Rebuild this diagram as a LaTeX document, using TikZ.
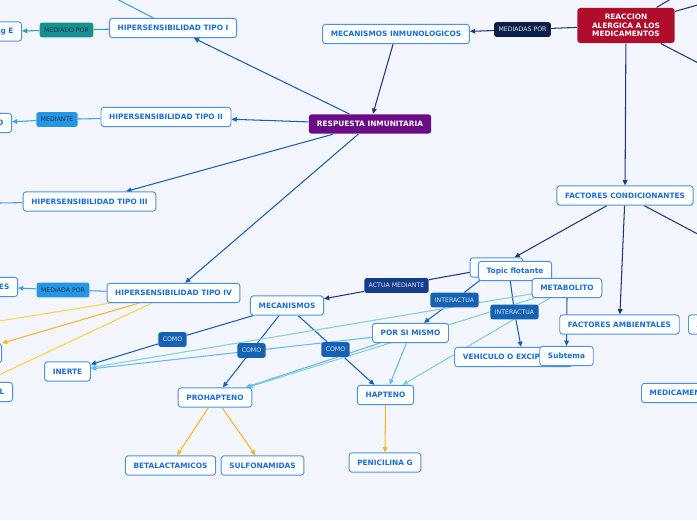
\documentclass[tikz,border=0pt]{standalone}
\usepackage{fontspec}
\setmainfont{DejaVu Sans}
\usetikzlibrary{arrows.meta,backgrounds}
\definecolor{pageBg}{HTML}{F3F6FE}
\definecolor{topicLine}{HTML}{4A92E4}
\definecolor{topicText}{HTML}{1A6ED6}
\definecolor{reacRed}{HTML}{B00C2C}
\definecolor{respPurple}{HTML}{6B0B87}
\definecolor{navyFill}{HTML}{0D1E48}
\definecolor{navyLine}{HTML}{1B3A7E}
\definecolor{actuaFill}{HTML}{153C8C}
\definecolor{midBlue}{HTML}{1562B2}
\definecolor{skyFill}{HTML}{2596E6}
\definecolor{skyLine}{HTML}{3CA2EA}
\definecolor{paleBlue}{HTML}{5CBEF2}
\definecolor{tealFill}{HTML}{17918F}
\definecolor{tealLine}{HTML}{2AA6A4}
\definecolor{mintLine}{HTML}{84D2CA}
\definecolor{yellowLine}{HTML}{FFD43A}
\definecolor{orangeLine}{HTML}{FFB422}
\definecolor{lblLight}{HTML}{DCE4F2}
\definecolor{lblDark}{HTML}{1A3550}
\begin{document}
\begin{tikzpicture}[x=0.03cm,y=-0.03cm,
  topic/.style={draw=topicLine, fill=white, rounded corners=2.5pt, line width=0.8pt, text=topicText,
    font=\bfseries\fontsize{6.3}{7.5}\selectfont, inner xsep=7pt, inner ysep=2pt, minimum height=16.5pt},
  lbl/.style={rounded corners=2pt, font=\fontsize{5.3}{6.3}\selectfont, inner xsep=3.8pt, inner ysep=1pt, minimum height=12.5pt},
  dark/.style={lbl, fill=#1, text=lblLight},
  pale/.style={lbl, fill=#1, text=lblDark},
  link/.style={line width=0.9pt, draw=#1},
  arr/.style={-{Triangle[length=4.5pt,width=4pt]}}]
\useasboundingbox (0,0) rectangle (697,520);
% main topics
\node[topic, draw=none, fill=reacRed, text=white, align=center, minimum width=83pt, minimum height=30pt,
  font=\bfseries\fontsize{6.3}{7.3}\selectfont] (reaccion) at (626,25.5) {REACCION\\ALERGICA A LOS\\MEDICAMENTOS};
\node[dark=navyFill] (medpor) at (522.5,29.5) {MEDIADAS POR};
\node[topic] (mecinm) at (396,34) {MECANISMOS INMUNOLOGICOS};
\node[topic, draw=none, fill=respPurple, text=white] (resp) at (370,124) {RESPUESTA INMUNITARIA};
% hypersensitivity types
\node[topic] (tipoI) at (173,28) {HIPERSENSIBILIDAD TIPO I};
\node[pale=tealFill] (mediado) at (66.5,30) {MEDIADO POR};
\node[topic, anchor=east, text width=1cm, align=right] (igE) at (22,31.5) {Ig E};
\node[topic] (tipoII) at (166,117) {HIPERSENSIBILIDAD TIPO II};
\node[pale=skyFill] (mediante) at (57,119.5) {MEDIANTE};
\node[topic, anchor=east, text width=1cm, align=right] (nodeO) at (12,123) {O};
\node[topic] (tipoIII) at (89.5,201.5) {HIPERSENSIBILIDAD TIPO III};
\node[topic] (tipoIV) at (173.5,293) {HIPERSENSIBILIDAD TIPO IV};
\node[pale=skyFill] (mediada) at (63,290) {MEDIADA POR};
\node[topic, anchor=east, text width=1cm, align=right] (nodeES) at (18,287) {ES};
\node[topic, anchor=east, text width=1.5cm] (nodeX) at (2,353) {};
\node[topic, anchor=east, text width=2.5cm, align=right] (nodeL) at (13,392) {L};
% mechanisms
\node[topic] (mecan) at (287,305.5) {MECANISMOS};
\node[dark=actuaFill] (actua) at (396.5,285.5) {ACTUA MEDIANTE};
\node[topic, minimum width=45pt] (hidden) at (496.5,267.5) {};
\node[topic] (topic) at (515,271) {Topic flotante};
\node[topic] (metab) at (567,288) {METABOLITO};
\node[dark=midBlue] (inter1) at (454.5,300) {INTERACTUA};
\node[dark=midBlue] (inter2) at (514.5,312) {INTERACTUA};
\node[topic] (porsi) at (410.5,333) {POR SI MISMO};
\node[topic] (vehic) at (513.5,357) {VEHICULO O EXCIPIENTE};
\node[topic] (subtema) at (566.5,356) {Subtema};
% conditioning factors
\node[topic] (factcond) at (625,195.5) {FACTORES CONDICIONANTES};
\node[topic] (factamb) at (619.5,324.5) {FACTORES AMBIENTALES};
\node[topic, anchor=west, text width=2cm] (nodeA) at (688,324.5) {A};
\node[topic, anchor=west, text width=3cm] (medicam) at (641,393) {MEDICAMEN};
% inert, prohapten, hapten
\node[topic] (inerte) at (67.5,371.5) {INERTE};
\node[topic] (prohap) at (215,397.5) {PROHAPTENO};
\node[topic] (hapteno) at (385.5,395) {HAPTENO};
\node[dark=midBlue] (como1) at (172.5,339.5) {COMO};
\node[dark=midBlue] (como2) at (251.5,350.5) {COMO};
\node[dark=midBlue] (como3) at (335.5,349.5) {COMO};
\node[topic] (betal) at (170.5,465.5) {BETALACTAMICOS};
\node[topic] (sulfo) at (262.5,465.5) {SULFONAMIDAS};
\node[topic] (penic) at (385,462.5) {PENICILINA G};
% off-page ends
\coordinate (offTop) at (60,-30);
\coordinate (offIII) at (-60,204);
\coordinate (offIV) at (-100,337);
\coordinate (offR1) at (720,-30);
\coordinate (offR2) at (760,-13);
\coordinate (offR3) at (760,95);
\coordinate (offFC) at (760,267);
\begin{scope}[on background layer]
\fill[pageBg] (0,0) rectangle (697,520);
% navy links
\draw[link=navyLine] (reaccion) -- (medpor);
\draw[link=navyLine, arr] (medpor) -- (mecinm);
\draw[link=navyLine, arr] (mecinm) -- (resp);
\draw[link=navyLine, arr] (reaccion) -- (factcond);
\draw[link=navyLine] (reaccion) -- (offR1);
\draw[link=navyLine] (reaccion) -- (offR2);
\draw[link=navyLine] (reaccion) -- (offR3);
\draw[link=navyLine, arr] (factcond) -- (hidden);
\draw[link=navyLine, arr] (factcond) -- (factamb);
\draw[link=navyLine] (factcond) -- (offFC);
\draw[link=navyLine] (hidden) -- (actua);
\draw[link=navyLine, arr] (actua) -- (mecan);
% response types
\draw[link=midBlue, arr] (resp) -- (tipoI);
\draw[link=midBlue, arr] (resp) -- (tipoII);
\draw[link=midBlue, arr] (resp) -- (tipoIII);
\draw[link=midBlue, arr] (resp) -- (tipoIV);
\draw[link=skyLine] (offTop) -- (tipoI);
\draw[link=skyLine] (tipoIII) -- (offIII);
\draw[link=tealLine] (tipoI) -- (mediado);
\draw[link=tealLine, arr] (mediado) -- (igE);
\draw[link=skyLine] (tipoII) -- (mediante);
\draw[link=skyLine, arr] (mediante) -- (nodeO);
\draw[link=skyLine] (tipoIV) -- (mediada);
\draw[link=skyLine, arr] (mediada) -- (nodeES);
\draw[link=yellowLine] (tipoIV) -- (offIV);
\draw[link=orangeLine, arr] (tipoIV) -- (nodeX);
\draw[link=yellowLine, arr] (tipoIV) -- (nodeL);
% mechanisms
\draw[link=midBlue] (mecan) -- (como1);
\draw[link=midBlue, arr] (como1) -- (inerte);
\draw[link=midBlue] (mecan) -- (como2);
\draw[link=midBlue, arr] (como2) -- (prohap);
\draw[link=midBlue] (mecan) -- (como3);
\draw[link=midBlue, arr] (como3) -- (hapteno);
\draw[link=midBlue] (hidden) -- (inter1);
\draw[link=midBlue, arr] (inter1) -- (porsi);
\draw[link=midBlue] ([xshift=-4pt]topic.south) -- (inter2);
\draw[link=midBlue, arr] (inter2) -- ([xshift=6.4pt]vehic.north);
\draw[link=midBlue, arr] (metab.south) -- (subtema.north);
\draw[link=mintLine, arr] (metab) -- (inerte);
\draw[link=mintLine, arr] (metab) -- (prohap);
\draw[link=mintLine, arr] (metab) -- (hapteno);
\draw[link=paleBlue, arr] (porsi) -- (inerte);
\draw[link=paleBlue, arr] (porsi) -- (prohap);
\draw[link=paleBlue, arr] (porsi) -- (hapteno);
% examples
\draw[link=orangeLine, arr] (prohap) -- (betal);
\draw[link=orangeLine, arr] (prohap) -- (sulfo);
\draw[link=orangeLine, arr] (hapteno) -- (penic);
\end{scope}
\end{tikzpicture}
\end{document}
